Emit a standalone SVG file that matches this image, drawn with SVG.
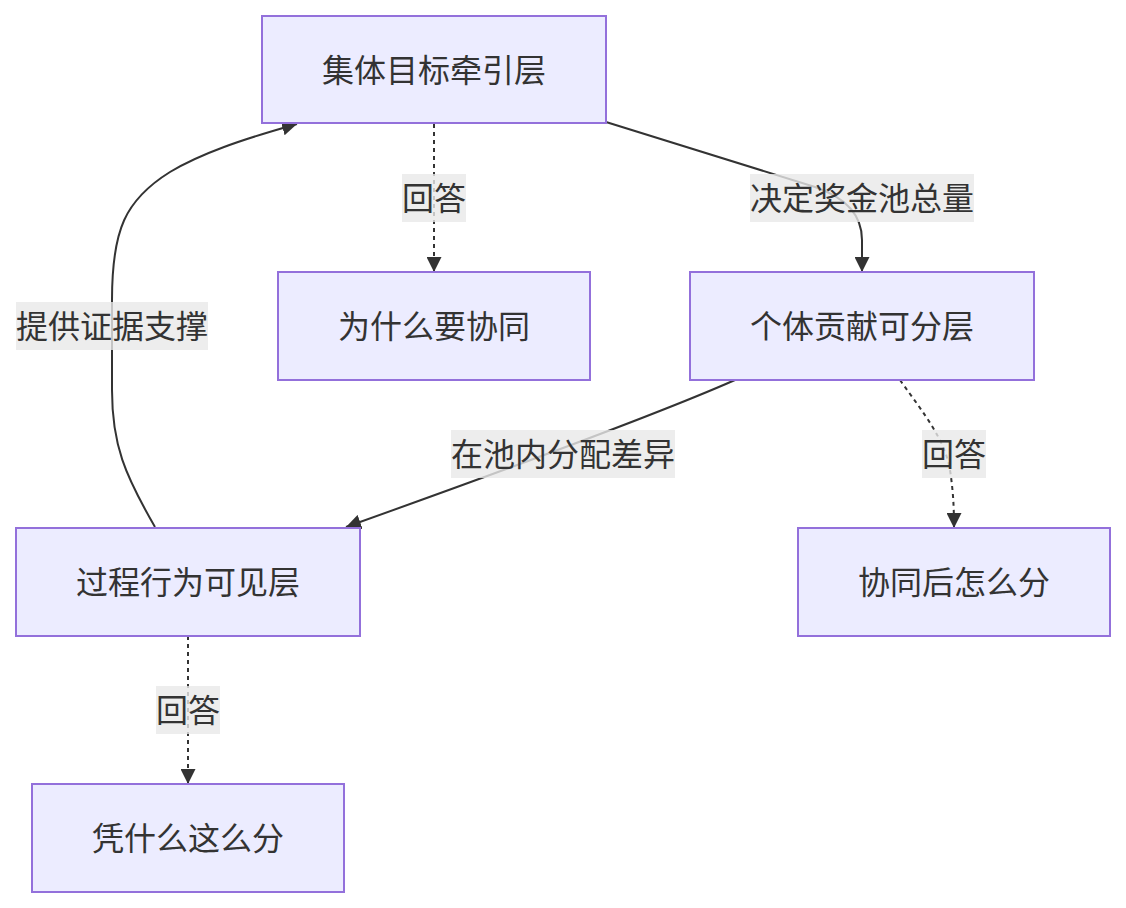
<svg xmlns="http://www.w3.org/2000/svg" width="1126" height="908" viewBox="0 0 1126 908">
<style>
.node rect{fill:#ECECFF;stroke:#9370DB;stroke-width:2}
text{font-family:"Noto Sans CJK SC","Noto Sans",sans-serif;font-size:32px;fill:#333;text-anchor:middle;dominant-baseline:central}
.edge{fill:none;stroke:#333;stroke-width:2}
.dot{stroke-dasharray:4 4}
.lbl rect{fill:#e8e8e8;fill-opacity:0.8}
</style>
<defs>
<marker id="arr" viewBox="0 0 10 10" refX="10" refY="5" markerWidth="15" markerHeight="15" markerUnits="userSpaceOnUse" orient="auto">
<path d="M0,0 L10,5 L0,10 z" fill="#333"/>
</marker>
</defs>
<rect width="1126" height="908" fill="#fff"/>
<g id="connectors">
<path class="edge dot" d="M434,124 L434,272" marker-end="url(#arr)"/>
<path class="edge" d="M606,122 L815,187 Q862,203 862,240 L862,272" marker-end="url(#arr)"/>
<path class="edge" d="M735,380 Q640,422 346,527" marker-end="url(#arr)"/>
<path class="edge dot" d="M900,380 C925,415 945,440 950,470 C953,490 954,505 954,528" marker-end="url(#arr)"/>
<path class="edge" d="M155,527 C125,475 112,445 112,390 L112,300 C112,230 125,200 170,172 C200,154 240,140 297,124" marker-end="url(#arr)"/>
<path class="edge dot" d="M188,636 L188,784" marker-end="url(#arr)"/>
</g>
<g id="labels">
<g class="lbl"><rect x="402" y="174" width="64" height="48"/><text x="434" y="196">回答</text></g>
<g class="lbl"><rect x="750" y="174" width="224" height="48"/><text x="862" y="196">决定奖金池总量</text></g>
<g class="lbl"><rect x="451" y="430" width="224" height="48"/><text x="563" y="452">在池内分配差异</text></g>
<g class="lbl"><rect x="922" y="430" width="64" height="48"/><text x="954" y="452">回答</text></g>
<g class="lbl"><rect x="16" y="302" width="192" height="48"/><text x="112" y="324">提供证据支撑</text></g>
<g class="lbl"><rect x="156" y="686" width="64" height="48"/><text x="188" y="708">回答</text></g>
</g>
<g id="nodeA" class="node"><rect x="262" y="16" width="344" height="107"/><text x="434" y="68">集体目标牵引层</text></g>
<g id="nodeB" class="node"><rect x="278" y="272" width="312" height="108"/><text x="434" y="324">为什么要协同</text></g>
<g id="nodeC" class="node"><rect x="690" y="272" width="344" height="108"/><text x="862" y="324">个体贡献可分层</text></g>
<g id="nodeD" class="node"><rect x="16" y="528" width="344" height="108"/><text x="188" y="580">过程行为可见层</text></g>
<g id="nodeE" class="node"><rect x="798" y="528" width="312" height="108"/><text x="954" y="580">协同后怎么分</text></g>
<g id="nodeF" class="node"><rect x="32" y="784" width="312" height="108"/><text x="188" y="836">凭什么这么分</text></g>
</svg>
